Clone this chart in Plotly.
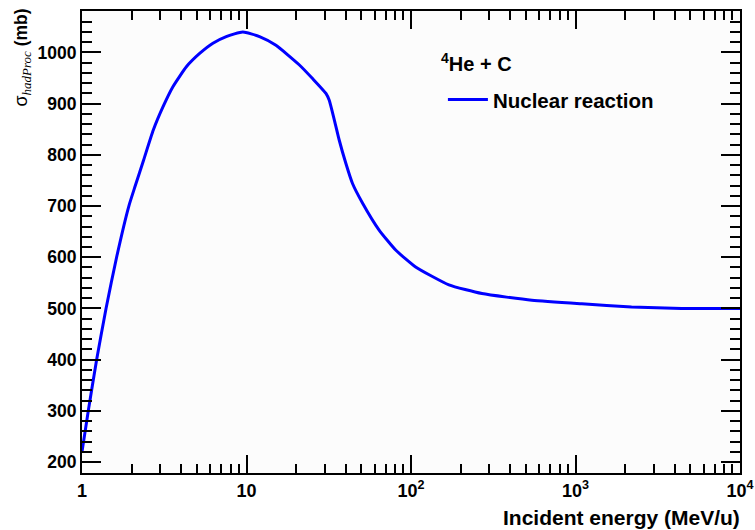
import plotly.graph_objects as go

# Incident energy per nucleon (MeV/u) and hadronic cross section (mb)
energy = [1.0, 1.092, 1.228, 1.40, 1.623, 1.927, 2.11, 2.37, 2.71, 3.11, 3.57,
          4.31, 5.19, 6.25, 7.53, 9.5, 12.0, 15.1, 20.9, 25.2, 30.4, 31.8,
          34.2, 36.6, 40.2, 44.1, 50.7, 64.0, 80.7, 106.7, 170.0, 270.0,
          543.0, 1092.0, 2190.0, 4410.0, 10000.0]
sigma = [220, 300, 400, 500, 600, 700, 740, 790, 848, 894, 933,
         972, 998, 1018, 1031, 1040, 1031, 1014, 976, 949, 920, 907,
         868, 829, 783, 744, 706, 653, 614, 581, 546, 529,
         516, 509, 503, 500, 500]

x_tickvals = [1, 10, 100, 1000, 10000]
x_ticktext = ["1", "10", "10<sup>2</sup>", "10<sup>3</sup>", "10<sup>4</sup>"]

FONT = "Liberation Sans, Arial, Helvetica, sans-serif"
SERIF = "Liberation Serif, Times New Roman, serif"

fig = go.Figure()
fig.add_trace(go.Scatter(
    x=energy, y=sigma, mode="lines", name="Nuclear reaction",
    line=dict(color="#0000ff", width=3, shape="spline", smoothing=0.5),
))

axis_common = dict(
    showgrid=False, zeroline=False, showline=True, linecolor="black",
    linewidth=2, mirror="allticks", ticks="inside", tickcolor="black",
    tickwidth=2, automargin=False,
)

fig.update_xaxes(
    type="log", range=[0, 4], tickmode="array", tickvals=x_tickvals,
    ticktext=x_ticktext, ticklen=18,
    tickfont=dict(family=FONT, size=18, color="black", weight="bold"),
    minor=dict(ticks="inside", ticklen=9, tickwidth=2, tickcolor="black",
               dtick="D1", showgrid=False),
    **axis_common,
)
fig.update_yaxes(
    range=[178.5, 1081], tick0=0, dtick=100, ticklen=19,
    tickfont=dict(family=FONT, size=17.5, color="black", weight="bold"),
    minor=dict(ticks="inside", ticklen=10, tickwidth=2, tickcolor="black",
               dtick=20, showgrid=False),
    **axis_common,
)

# Axis titles, aligned to the far end of each axis
fig.add_annotation(
    xref="paper", yref="paper", x=1.003, y=-0.097, xanchor="right", yanchor="middle",
    text="<b>Incident energy (MeV/u)</b>", showarrow=False,
    font=dict(family=FONT, size=21, color="black"),
)
fig.add_annotation(
    xref="paper", yref="paper", x=-0.09, y=1.009, xanchor="center", yanchor="top",
    textangle=-90, showarrow=False,
    text=("<span style='font-size:18px'>σ</span>"
          f"<sub><span style='font-family:{SERIF};font-size:13px'><i>hadProc</i></span></sub>"
          " <b>(mb)</b>"),
    font=dict(family=FONT, size=17.5, color="black"),
)

# Reaction label above the legend entry
fig.add_annotation(
    xref="paper", yref="paper", x=0.5426, y=0.889, xanchor="left", yanchor="middle",
    text="<b><sup>4</sup>He + C</b>", showarrow=False,
    font=dict(family=FONT, size=20, color="black"),
)

fig.update_layout(
    width=755, height=530,
    margin=dict(l=82, r=15, t=11, b=57),
    paper_bgcolor="white", plot_bgcolor="#fcfcfc",
    showlegend=True,
    legend=dict(
        x=0.5485, y=0.808, xanchor="left", yanchor="middle",
        bgcolor="rgba(0,0,0,0)", borderwidth=0, itemwidth=40,
        font=dict(family=FONT, size=20.5, color="black", weight="bold"),
    ),
)

fig.write_html("out.html")
